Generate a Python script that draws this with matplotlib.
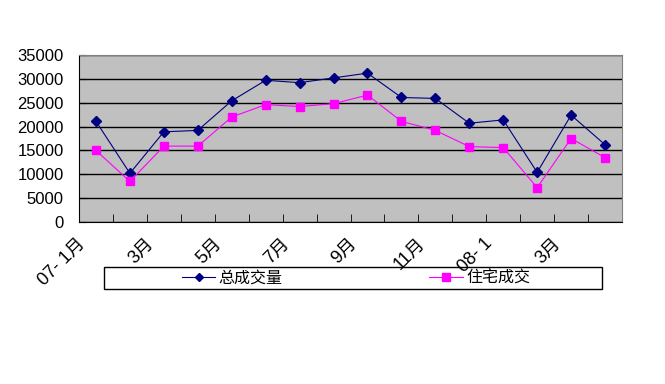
import numpy as np
import matplotlib
matplotlib.use("Agg")
import matplotlib.pyplot as plt
from matplotlib.patches import Rectangle
from matplotlib.transforms import ScaledTranslation

plt.rcParams["font.family"] = ["Liberation Sans", "Noto Sans CJK SC", "DejaVu Sans"]

# ── Data ──────────────────────────────────────────────────────────────────────
months = ["07- 1月", "2月", "3月", "4月", "5月", "6月", "7月", "8月",
          "9月", "10月", "11月", "12月", "08- 1", "2月", "3月", "4月"]
tick_labels = ["07- 1月", "3月", "5月", "7月", "9月", "11月", "08- 1", "3月"]
total_volume = [21100, 10200, 18900, 19200, 25400, 29700, 29200, 30200,
                31200, 26100, 25900, 20700, 21400, 10400, 22400, 16200]
residential = [15000, 8500, 15900, 15900, 22000, 24600, 24200, 24800,
               26600, 21100, 19200, 15800, 15600, 7200, 17500, 13500]
series_names = ["总成交量", "住宅成交"]

NAVY = "#000080"
MAGENTA = "#FF00FF"

fig = plt.figure(figsize=(6.65, 3.84), dpi=100)
ax = fig.add_axes([79 / 665, 1 - 222 / 384, (622 - 79) / 665, (222 - 55) / 384])
ax.set_facecolor("#C0C0C0")

x = np.arange(len(months))
l1, = ax.plot(x, total_volume, color=NAVY, lw=0.8, marker="D", ms=4.8,
              label=series_names[0], zorder=3)
l2, = ax.plot(x, residential, color=MAGENTA, lw=0.8, marker="s", ms=6,
              label=series_names[1], zorder=3)

ax.set_xlim(-0.5, len(months) - 0.5)
ax.set_ylim(0, 35000)
ax.set_yticks(np.arange(0, 35001, 5000))
ax.yaxis.grid(True, color="black", lw=1)
ax.set_axisbelow(True)
ax.tick_params(axis="y", direction="in", length=5, color="black",
               labelsize=12, pad=11)

# category ticks between points, labels every second month
ax.set_xticks(np.arange(0, len(months), 2))
ax.set_xticklabels(tick_labels, rotation=45, ha="right", va="top",
                   rotation_mode="anchor", fontsize=13)
ax.set_xticks(np.arange(-0.5, len(months)), minor=True)
ax.tick_params(axis="x", which="major", length=0, pad=8)
ax.tick_params(axis="x", which="minor", direction="in", length=6, color="black")

# nudge rotated labels left like the original layout (after tick_params)
shift = ScaledTranslation(-19 / 100, -2 / 100, fig.dpi_scale_trans)
for tick in ax.xaxis.get_major_ticks():
    tick.label1.set_transform(tick.label1.get_transform() + shift)

for side in ["top", "right"]:
    ax.spines[side].set_color("#808080")
for side in ["left", "bottom"]:
    ax.spines[side].set_color("black")

# legend box below the plot
fig.patches.append(Rectangle((104 / 665, 1 - 289 / 384), 498 / 665, 22 / 384,
                             transform=fig.transFigure, fill=False,
                             edgecolor="black", lw=1))
fig.legend(handles=[l1, l2], loc="center", ncol=2,
           bbox_to_anchor=(356 / 665, 1 - 278 / 384), frameon=False,
           fontsize=11.5, handlelength=2.1, handletextpad=0.2,
           columnspacing=9.2, markerscale=0.9)

plt.savefig("out.png", dpi=100)
